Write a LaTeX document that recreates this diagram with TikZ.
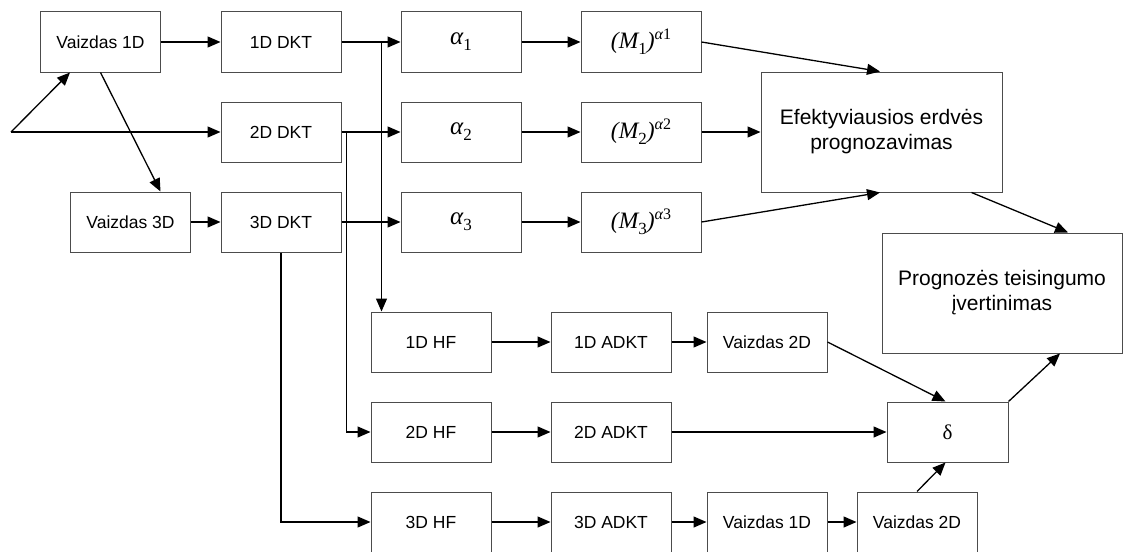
\documentclass[tikz,border=0pt]{standalone}
\usepackage{fontspec}
\setmainfont{Liberation Sans}
\newfontfamily\serif{Liberation Serif}
\usetikzlibrary{arrows.meta}
\newcommand\alf[1]{{\serif\fontsize{25}{28}\selectfont\itshape α\raisebox{-6pt}{\fontsize{17}{19}\selectfont\upshape #1}}}
\newcommand\emm[1]{{\serif\fontsize{23.5}{27}\selectfont\itshape (M\raisebox{-6pt}{\fontsize{17}{19}\selectfont\upshape #1})\raisebox{9pt}{\fontsize{16}{18}\selectfont α\upshape #1}}}
\begin{document}
\begin{tikzpicture}[x=1pt,y=-1pt,
  box/.style={draw=black!70, line width=1pt, minimum width=120pt, minimum height=60pt, inner sep=0pt, font=\fontsize{17.5}{21}\selectfont},
  bigbox/.style={box, minimum width=240pt, minimum height=120pt, align=center, font=\fontsize{21}{25}\selectfont},
  arr/.style={-{Triangle[length=13pt,width=11pt]}, line width=1.3pt}]
\useasboundingbox (0,0) rectangle (1123,551);
\fill[white] (0,0) rectangle (1123,551);
% row 1-3
\node[box] (v1) at (100.5,42) {Vaizdas 1D};
\node[box] (v3) at (130.5,222) {Vaizdas 3D};
\node[box] (d1) at (281,42) {1D DKT};
\node[box] (d2) at (281,132) {2D DKT};
\node[box] (d3) at (281,222) {3D DKT};
\node[box] (a1) at (461,42) {\alf{1}};
\node[box] (a2) at (461,132) {\alf{2}};
\node[box] (a3) at (461,222) {\alf{3}};
\node[box] (m1) at (641,42) {\emm{1}};
\node[box] (m2) at (641,132) {\emm{2}};
\node[box] (m3) at (641,222) {\emm{3}};
\node[bigbox, minimum width=241pt] (ef) at (881.5,132) {Efektyviausios erdvės\\prognozavimas};
\node[bigbox] (pr) at (1002,293) {Prognozės teisingumo\\įvertinimas};
% lower rows
\node[box] (hf1) at (431,342) {1D HF};
\node[box] (ad1) at (611,342) {1D ADKT};
\node[box] (v2a) at (767,342) {Vaizdas 2D};
\node[box] (hf2) at (431,432) {2D HF};
\node[box] (ad2) at (611,432) {2D ADKT};
\node[box, minimum width=121pt] (de) at (947.5,432) {\serif\fontsize{21}{24}\selectfont δ};
\node[box] (hf3) at (431,522) {3D HF};
\node[box] (ad3) at (611,522) {3D ADKT};
\node[box] (v1b) at (767,522) {Vaizdas 1D};
\node[box] (v2b) at (917,522) {Vaizdas 2D};
% connectors
\coordinate (s) at (11,132);
\draw[arr] (s) -- ([xshift=30pt]v1.south west);
\draw[arr] (s) -- (d2.west);
\draw[arr] (v1.south) -- ([xshift=30pt]v3.north);
\draw[arr] (v1) -- (d1);
\draw[arr] (v3) -- (d3);
\draw[arr] (d1) -- (a1);
\draw[arr] (d2) -- (a2);
\draw[arr] (d3) -- (a3);
\coordinate (j1) at ([xshift=11pt]hf1.north west);
\draw[arr] (j1 |- d1.east) -- (j1);
\coordinate (j2) at ([xshift=-24pt]hf2.west);
\draw[arr] (j2 |- d2.east) -- (j2) -- (hf2.west);
\draw[arr] (d3.south) |- (hf3.west);
\draw[arr] (a1) -- (m1);
\draw[arr] (a2) -- (m2);
\draw[arr] (a3) -- (m3);
\draw[arr] (m1.east) -- ([xshift=-1.5pt]ef.north);
\draw[arr] (m2.east) -- (ef.west);
\draw[arr] (m3.east) -- ([xshift=-1.5pt]ef.south);
\draw[arr] ([xshift=90pt]ef.south) -- ([xshift=66pt]pr.north);
\draw[arr] (hf1) -- (ad1);
\draw[arr] (ad1) -- (v2a);
\draw[arr] (hf2) -- (ad2);
\draw[arr] (ad2) -- (de);
\draw[arr] (hf3) -- (ad3);
\draw[arr] (ad3) -- (v1b);
\draw[arr] (v1b) -- (v2b);
\draw[arr] (v2a.east) -- ([xshift=-2pt]de.north);
\draw[arr] (v2b.north) -- ([xshift=-2pt]de.south);
\draw[arr] (de.north east) -- ([xshift=58pt]pr.south);
\end{tikzpicture}
\end{document}
